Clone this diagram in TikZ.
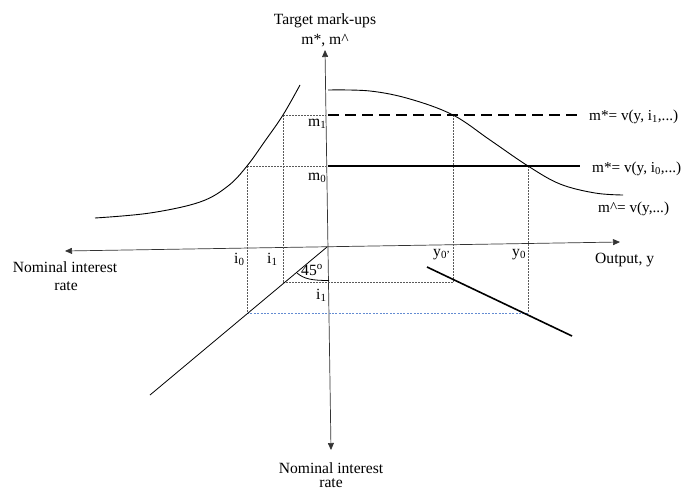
\documentclass[tikz,border=0pt]{standalone}
\usepackage{fontspec}
\setmainfont{Liberation Serif}
\usetikzlibrary{arrows.meta}
\definecolor{guide}{RGB}{90,90,90}
\definecolor{guideblue}{RGB}{100,140,210}
\begin{document}
\begin{tikzpicture}[x=1pt,y=-1pt,
  font=\fontsize{15.6}{18}\selectfont,
  axis/.style={draw=black!80,line width=0.7pt,{Triangle[length=7pt,width=6pt]}-{Triangle[length=7pt,width=6pt]}},
  guideline/.style={draw=guide,line width=0.7pt,dash pattern=on 1.6pt off 1.4pt},
  bluegl/.style={draw=guideblue,line width=0.7pt,dash pattern=on 2pt off 1.4pt},
  curve/.style={draw=black,line width=0.9pt},
  thickline/.style={draw=black,line width=1.8pt},
  lbl/.style={anchor=base,inner sep=0pt},
  lbll/.style={anchor=base west,inner sep=0pt},
  lblsm/.style={anchor=base west,inner sep=0pt,font=\fontsize{15.2}{17}\selectfont}]
\useasboundingbox (0,0) rectangle (684,490);
% axes
\coordinate (top) at (325,50);
\coordinate (bot) at (331,450);
\coordinate (left) at (65,251);
\coordinate (right) at (620,242);
\coordinate (O) at (327,247);
\draw[axis] (bot) -- (top);
\draw[axis] (left) -- (right);
% axis labels
\node[lbl] (tl1) at (325,24) {Target mark-ups};
\node[lbl] (tl2) at (325,44) {m*, m\textasciicircum};
\node[lbl] (ll1) at (65,272) {Nominal interest};
\node[lbl] (ll2) at (66,290) {rate};
\node[lbll] (rl) at (595,263) {Output, y};
\node[lbl] (bl1) at (331,473) {Nominal interest};
\node[lbl] (bl2) at (331,487.5) {rate};
% key points
\coordinate (A0) at (247,166);
\coordinate (A1) at (283,115);
\coordinate (B0) at (528,166);
\coordinate (B1) at (453,115);
\coordinate (C0) at (247,313);
\coordinate (C1) at (283,282);
\coordinate (D0) at (528,313);
\coordinate (D1) at (453,282);
\coordinate (Y1) at (325.6,115);
\coordinate (Y0) at (326,166);
% guide lines
\draw[guideline] (A1) -- (Y1);
\draw[guideline] (A0) -- (Y0);
\draw[guideline] (A0) -- (C0);
\draw[guideline] (A1) -- (C1);
\draw[guideline] (C1) -- (D1);
\draw[bluegl] (C0) -- (D0);
\draw[guideline] (B1) -- (D1);
\draw[guideline] (B0) -- (D0);
% left curve
\draw[curve] plot[smooth,tension=0.6] coordinates {(95,218) (150,213) (200,202) (228,186) (247,166) (265,141) (283,115) (300,85)};
% m^ curve
\draw[curve] plot[smooth,tension=0.6] coordinates {(328,90) (370,91) (410,99) (453,115) (490,140) (528,166) (560,184) (595,193) (623,195)};
% m* lines
\coordinate (m1s) at (328,115);
\coordinate (m1e) at (583,115);
\coordinate (m0s) at (328,166);
\coordinate (m0e) at (580,166);
\draw[thickline,dash pattern=on 11pt off 6pt] (m1s) -- (m1e);
\draw[thickline] (m0s) -- (m0e);
% 45 degree line
\coordinate (diag) at (150,395);
\draw[curve,line width=0.8pt] (O) -- (diag);
\draw[curve,line width=0.8pt] (297,273) .. controls (304,279) and (312,280.5) .. (329,280.5);
% right line
\coordinate (r1) at (427,267);
\coordinate (r2) at (572,336);
\draw[thickline,line width=1.6pt] (r1) -- (r2);
% labels
\node[lbll] (m1) at (308,126.5) {m\textsubscript{1}};
\node[lbll] (m0) at (308,180) {m\textsubscript{0}};
\node[lbll] (i0) at (234,263) {i\textsubscript{0}};
\node[lbll] (i1) at (267,263) {i\textsubscript{1}};
\node[lbll] (i1b) at (316,299) {i\textsubscript{1}};
\node[lbll] (deg) at (301,275) {45\textsuperscript{o}};
\node[lbll] (y0p) at (433,256) {y\textsubscript{0'}};
\node[lbll] (y0) at (512,256) {y\textsubscript{0}};
\node[lblsm] (e1) at (589,120) {m*= v(y, i\textsubscript{1},...)};
\node[lblsm] (e0) at (592,172) {m*= v(y, i\textsubscript{0},...)};
\node[lblsm] (eh) at (598,212) {m\textasciicircum= v(y,...)};
\end{tikzpicture}
\end{document}
